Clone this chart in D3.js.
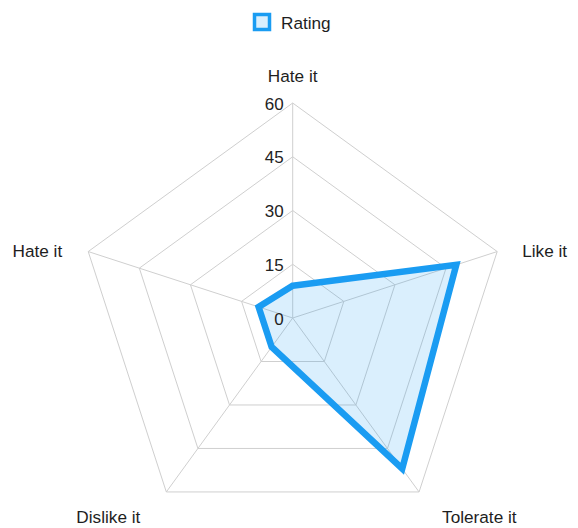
<!DOCTYPE html>
<html><head><meta charset="utf-8">
<script src="https://cdn.jsdelivr.net/npm/d3@7"></script>
<style>body{margin:0;background:#fff}svg{display:block}</style>
</head><body>
<svg id="c" width="578" height="528"></svg>
<script>
const categories = ["Hate it", "Like it", "Tolerate it", "Dislike it", "Hate it"];
const ratingValues = [9, 48, 52, 10, 10];
const tickValues = [0, 15, 30, 45, 60];
const seriesName = "Rating";

const W = 578, H = 528;
const cx = 292.7, cy = 318, R = 215;
const font = "'Helvetica Neue', Helvetica, Arial, 'Liberation Sans', sans-serif";
const blue = "#1a9cf2";
const svg = d3.select("#c");

const r = d3.scaleLinear().domain([0, 60]).range([0, R]);
const ang = d3.scalePoint().domain(d3.range(categories.length)).range([0, 2*Math.PI*(categories.length-1)/categories.length]);
function pt(i, v){ const a = ang(i); return [cx + r(v)*Math.sin(a), cy - r(v)*Math.cos(a)]; }

const g = svg.append("g");
tickValues.filter(t => t > 0).forEach(t => {
  g.append("polygon")
    .attr("points", categories.map((c,i) => pt(i,t).join(",")).join(" "))
    .attr("fill","none").attr("stroke","#cfcfcf").attr("stroke-width",1);
});
categories.forEach((c,i) => {
  const p = pt(i,60);
  g.append("line").attr("x1",cx).attr("y1",cy).attr("x2",p[0]).attr("y2",p[1])
    .attr("stroke","#cfcfcf").attr("stroke-width",1);
});

const line = d3.line().curve(d3.curveLinearClosed);
g.append("path")
  .attr("d", line(ratingValues.map((v,i) => pt(i,v))))
  .attr("fill","rgba(26,156,242,0.16)")
  .attr("stroke",blue).attr("stroke-width",6.5).attr("stroke-linejoin","miter");

tickValues.forEach(t => {
  g.append("text").attr("x", cx - 9).attr("y", cy - r(t) + 1)
    .attr("text-anchor","end").attr("dominant-baseline","central")
    .attr("font-family",font).attr("font-size",17).attr("fill","#222").text(t);
});

categories.forEach((c,i) => {
  const [vx, vy] = pt(i,60);
  const s = Math.sin(ang(i)), co = Math.cos(ang(i));
  let x, y, anchor;
  if (Math.abs(s) < 0.01) { x = vx; y = vy - 27; anchor = "middle"; }
  else if (co > 0) { x = vx + (s>0?25:-26); y = vy - 1; anchor = s>0?"start":"end"; }
  else { x = vx + (s>0?23:-26); y = vy + 25; anchor = s>0?"start":"end"; }
  g.append("text").attr("x",x).attr("y",y).attr("text-anchor",anchor)
    .attr("dominant-baseline","central")
    .attr("font-family",font).attr("font-size",17.2).attr("fill","#1e1e1e").text(c);
});

const lg = svg.append("g");
lg.append("rect").attr("x",254.5).attr("y",14.5).attr("width",15).attr("height",15)
  .attr("fill","rgba(26,156,242,0.16)").attr("stroke",blue).attr("stroke-width",3.5);
lg.append("text").attr("x",281).attr("y",22.5).attr("dominant-baseline","central")
  .attr("font-family",font).attr("font-size",17.2).attr("fill","#1e1e1e").text(seriesName);
</script>
</body></html>
